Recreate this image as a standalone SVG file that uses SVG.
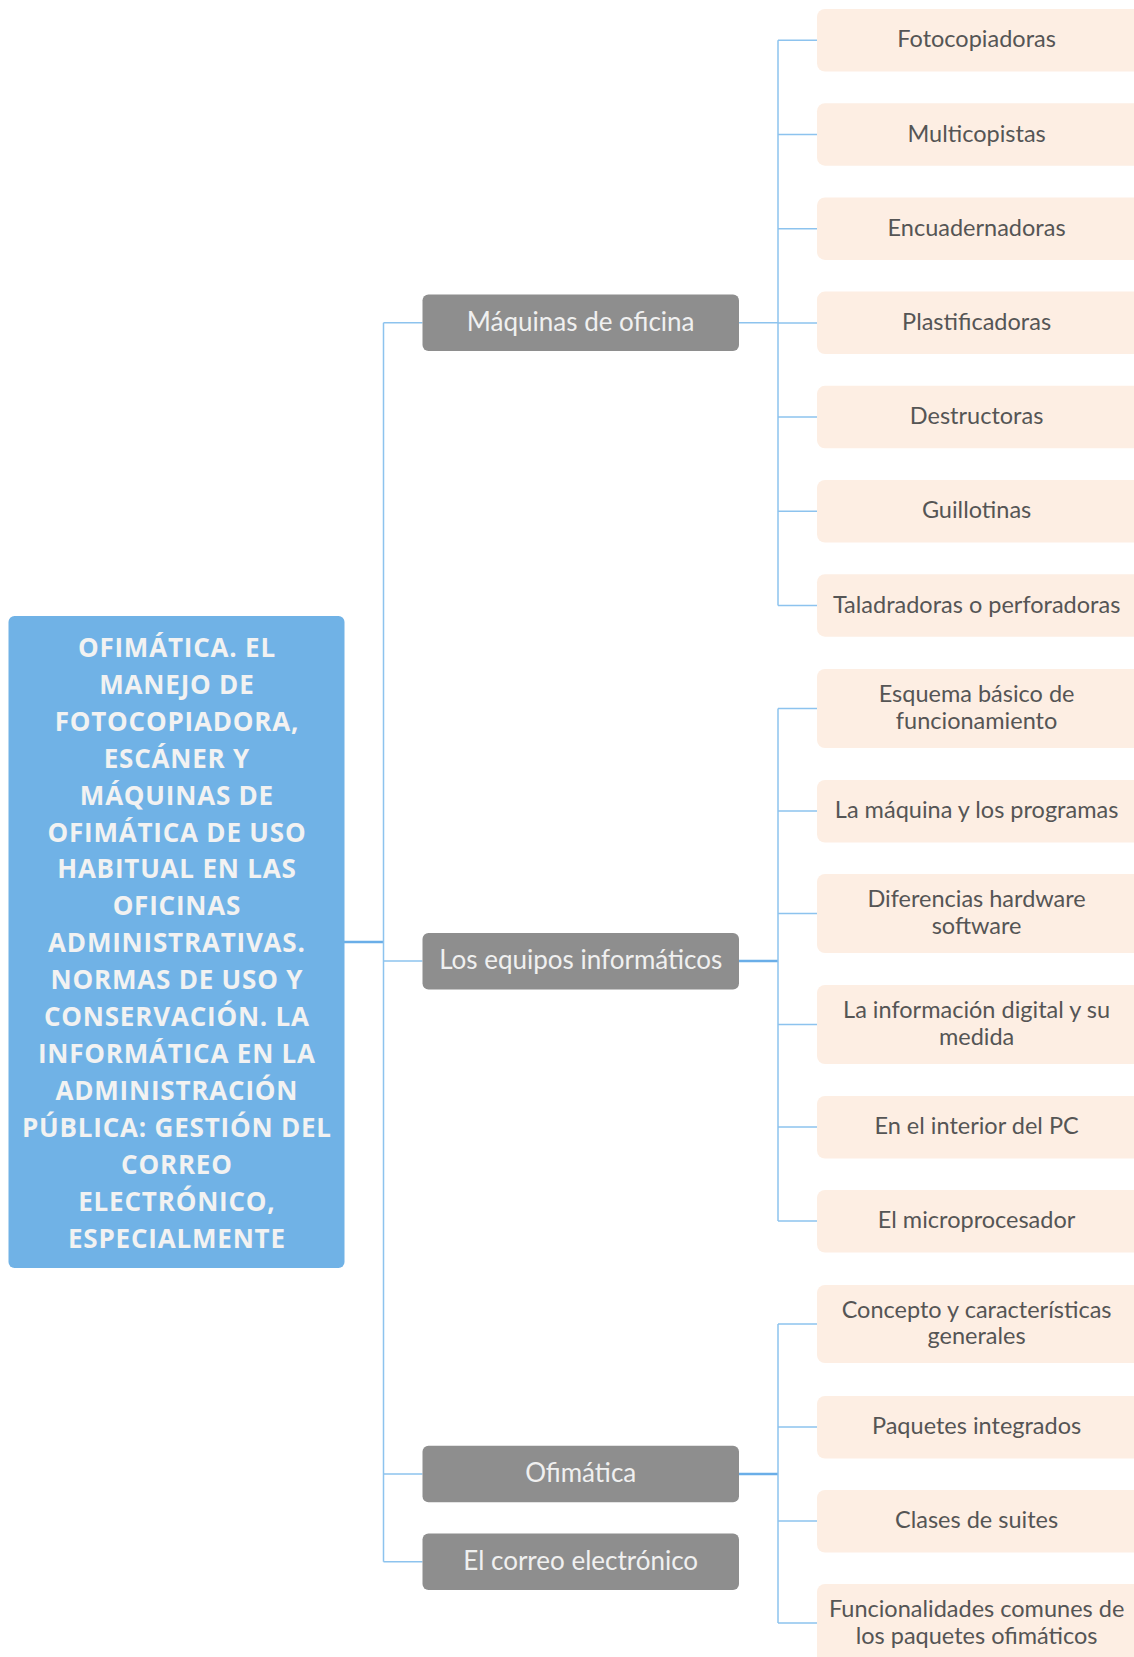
<svg xmlns="http://www.w3.org/2000/svg" width="1134" height="1657" viewBox="0 0 1134 1657">
<style>
.bg{fill:#ffffff}
.root rect{fill:#70b2e6}
.root text{fill:#f2f2f2;font-family:"Open Sans",Lato,sans-serif;font-weight:bold;font-size:26px;letter-spacing:0.8px;text-anchor:middle;dominant-baseline:central}
.l1 rect{fill:#8e8e8e}
.l1 text{fill:#f0f0f0;font-family:Lato,"Open Sans",sans-serif;font-size:26px;text-anchor:middle;dominant-baseline:central}
.l2 rect{fill:#fdeee3}
.l2 text{fill:#555555;font-family:Lato,"Open Sans",sans-serif;font-size:23.5px;text-anchor:middle;dominant-baseline:central}
.c{stroke:#8dc3ee;stroke-width:1.5;fill:none}
.ct{stroke:#6aaee8;stroke-width:2.5;fill:none}
</style>
<rect class="bg" x="0" y="0" width="1134" height="1657"/>
<g id="connectors">
<line class="ct" x1="344" y1="942" x2="383.5" y2="942"/>
<path class="c" d="M383.5 322.8 V1561.8 M383.5 322.8 H422.5 M383.5 961 H422.5 M383.5 1474 H422.5 M383.5 1561.8 H422.5"/>
<line class="c" x1="739" y1="322.8" x2="778" y2="322.8"/>
<line class="ct" x1="739" y1="961" x2="778" y2="961"/>
<line class="ct" x1="739" y1="1474" x2="778" y2="1474"/>
<path class="c" d="M778 40.3 V605.5 M778 40.3 H817 M778 134.5 H817 M778 228.7 H817 M778 322.9 H817 M778 417.1 H817 M778 511.3 H817 M778 605.5 H817"/>
<path class="c" d="M778 708.5 V1221 M778 708.5 H817 M778 811 H817 M778 913.5 H817 M778 1024.5 H817 M778 1127 H817 M778 1221 H817"/>
<path class="c" d="M778 1324 V1623 M778 1324 H817 M778 1427 H817 M778 1521 H817 M778 1623 H817"/>
</g>
<g id="root" class="root">
<rect x="8.5" y="616" width="336" height="652" rx="6"/>
<text x="176.9" y="646.8">OFIMÁTICA. EL</text>
<text x="176.9" y="683.7">MANEJO DE</text>
<text x="176.9" y="720.7">FOTOCOPIADORA,</text>
<text x="176.9" y="757.6">ESCÁNER Y</text>
<text x="176.9" y="794.5">MÁQUINAS DE</text>
<text x="176.9" y="831.5">OFIMÁTICA DE USO</text>
<text x="176.9" y="868.4">HABITUAL EN LAS</text>
<text x="176.9" y="905.3">OFICINAS</text>
<text x="176.9" y="942.2">ADMINISTRATIVAS.</text>
<text x="176.9" y="979.2">NORMAS DE USO Y</text>
<text x="176.9" y="1016.1">CONSERVACIÓN. LA</text>
<text x="176.9" y="1053">INFORMÁTICA EN LA</text>
<text x="176.9" y="1090">ADMINISTRACIÓN</text>
<text x="176.9" y="1126.9">PÚBLICA: GESTIÓN DEL</text>
<text x="176.9" y="1163.8">CORREO</text>
<text x="176.9" y="1200.8">ELECTRÓNICO,</text>
<text x="176.9" y="1237.7">ESPECIALMENTE</text>
</g>
<g id="n-maquinas" class="l1"><rect x="422.5" y="294.5" width="316.5" height="56.5" rx="6"/><text x="580.7" y="320.8">Máquinas de oficina</text></g>
<g id="n-equipos" class="l1"><rect x="422.5" y="933" width="316.5" height="56.5" rx="6"/><text x="580.7" y="959">Los equipos informáticos</text></g>
<g id="n-ofimatica" class="l1"><rect x="422.5" y="1445.7" width="316.5" height="56.5" rx="6"/><text x="580.7" y="1472">Ofimática</text></g>
<g id="n-correo" class="l1"><rect x="422.5" y="1533.5" width="316.5" height="56.5" rx="6"/><text x="580.7" y="1559.8">El correo electrónico</text></g>
<g id="c-fotocopiadoras" class="l2"><rect x="817" y="9" width="330" height="62.5" rx="8"/><text x="976.6" y="38.3">Fotocopiadoras</text></g>
<g id="c-multicopistas" class="l2"><rect x="817" y="103.2" width="330" height="62.5" rx="8"/><text x="976.6" y="132.5">Multicopistas</text></g>
<g id="c-encuadernadoras" class="l2"><rect x="817" y="197.4" width="330" height="62.5" rx="8"/><text x="976.6" y="226.7">Encuadernadoras</text></g>
<g id="c-plastificadoras" class="l2"><rect x="817" y="291.6" width="330" height="62.5" rx="8"/><text x="976.6" y="320.9">Plastificadoras</text></g>
<g id="c-destructoras" class="l2"><rect x="817" y="385.8" width="330" height="62.5" rx="8"/><text x="976.6" y="415.1">Destructoras</text></g>
<g id="c-guillotinas" class="l2"><rect x="817" y="480" width="330" height="62.5" rx="8"/><text x="976.6" y="509.3">Guillotinas</text></g>
<g id="c-taladradoras" class="l2"><rect x="817" y="574.2" width="330" height="62.5" rx="8"/><text x="976.6" y="603.5">Taladradoras o perforadoras</text></g>
<g id="c-esquema" class="l2"><rect x="817" y="669" width="330" height="79" rx="8"/><text x="976.6" y="693.2">Esquema básico de</text><text x="976.6" y="719.6">funcionamiento</text></g>
<g id="c-maquina" class="l2"><rect x="817" y="780" width="330" height="62.5" rx="8"/><text x="976.6" y="809">La máquina y los programas</text></g>
<g id="c-diferencias" class="l2"><rect x="817" y="874" width="330" height="79" rx="8"/><text x="976.6" y="898.2">Diferencias hardware</text><text x="976.6" y="924.6">software</text></g>
<g id="c-informacion" class="l2"><rect x="817" y="985" width="330" height="79" rx="8"/><text x="976.6" y="1009.2">La información digital y su</text><text x="976.6" y="1035.6">medida</text></g>
<g id="c-interior" class="l2"><rect x="817" y="1096" width="330" height="62.5" rx="8"/><text x="976.6" y="1125">En el interior del PC</text></g>
<g id="c-micro" class="l2"><rect x="817" y="1190" width="330" height="62.5" rx="8"/><text x="976.6" y="1219">El microprocesador</text></g>
<g id="c-concepto" class="l2"><rect x="817" y="1285" width="330" height="78" rx="8"/><text x="976.6" y="1308.8">Concepto y características</text><text x="976.6" y="1335.2">generales</text></g>
<g id="c-paquetes" class="l2"><rect x="817" y="1396" width="330" height="62.5" rx="8"/><text x="976.6" y="1425">Paquetes integrados</text></g>
<g id="c-clases" class="l2"><rect x="817" y="1490" width="330" height="62.5" rx="8"/><text x="976.6" y="1519">Clases de suites</text></g>
<g id="c-funcionalidades" class="l2"><rect x="817" y="1584" width="330" height="90" rx="8"/><text x="976.6" y="1608">Funcionalidades comunes de</text><text x="976.6" y="1634.6">los paquetes ofimáticos</text></g>
</svg>
